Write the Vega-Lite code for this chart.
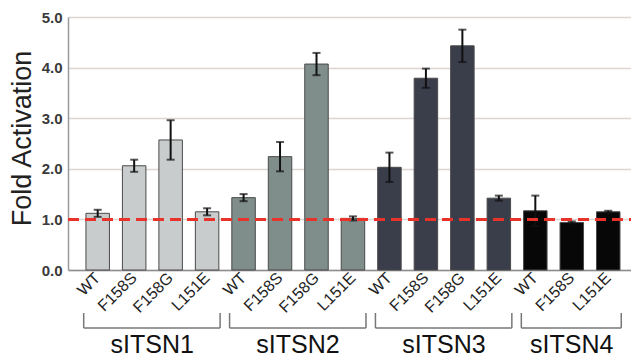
{
  "$schema": "https://vega.github.io/schema/vega-lite/v6.json",
  "autosize": {"type": "none"},
  "width": 563,
  "height": 253,
  "padding": {"left": 68, "top": 17, "right": 0, "bottom": 88},
  "background": "white",
  "config": {
    "font": "Liberation Sans",
    "view": {"stroke": null}
  },
  "datasets": {
    "bars": [
      {"id": "sITSN1 WT", "group": "sITSN1", "mut": "WT", "value": 1.12, "err": 0.07},
      {"id": "sITSN1 F158S", "group": "sITSN1", "mut": "F158S", "value": 2.06, "err": 0.12},
      {"id": "sITSN1 F158G", "group": "sITSN1", "mut": "F158G", "value": 2.57, "err": 0.39},
      {"id": "sITSN1 L151E", "group": "sITSN1", "mut": "L151E", "value": 1.15, "err": 0.07},
      {"id": "sITSN2 WT", "group": "sITSN2", "mut": "WT", "value": 1.43, "err": 0.07},
      {"id": "sITSN2 F158S", "group": "sITSN2", "mut": "F158S", "value": 2.24, "err": 0.29},
      {"id": "sITSN2 F158G", "group": "sITSN2", "mut": "F158G", "value": 4.07, "err": 0.22},
      {"id": "sITSN2 L151E", "group": "sITSN2", "mut": "L151E", "value": 1.02, "err": 0.04},
      {"id": "sITSN3 WT", "group": "sITSN3", "mut": "WT", "value": 2.03, "err": 0.29},
      {"id": "sITSN3 F158S", "group": "sITSN3", "mut": "F158S", "value": 3.79, "err": 0.19},
      {"id": "sITSN3 F158G", "group": "sITSN3", "mut": "F158G", "value": 4.43, "err": 0.32},
      {"id": "sITSN3 L151E", "group": "sITSN3", "mut": "L151E", "value": 1.42, "err": 0.05},
      {"id": "sITSN4 WT", "group": "sITSN4", "mut": "WT", "value": 1.17, "err": 0.3},
      {"id": "sITSN4 F158S", "group": "sITSN4", "mut": "F158S", "value": 0.94, "err": 0.02},
      {"id": "sITSN4 L151E", "group": "sITSN4", "mut": "L151E", "value": 1.15, "err": 0.02}
    ],
    "brackets": [
      {"group": "sITSN1", "first": "sITSN1 WT", "last": "sITSN1 L151E", "labelAt": "sITSN1 F158S", "even": true},
      {"group": "sITSN2", "first": "sITSN2 WT", "last": "sITSN2 L151E", "labelAt": "sITSN2 F158S", "even": true},
      {"group": "sITSN3", "first": "sITSN3 WT", "last": "sITSN3 L151E", "labelAt": "sITSN3 F158S", "even": true},
      {"group": "sITSN4", "first": "sITSN4 WT", "last": "sITSN4 L151E", "labelAt": "sITSN4 F158S", "even": false}
    ],
    "levels": [
      {"ref": 1}
    ]
  },
  "encoding": {
    "x": {
      "field": "id",
      "type": "nominal",
      "sort": null,
      "scale": {
        "domain": ["sITSN1 WT", "sITSN1 F158S", "sITSN1 F158G", "sITSN1 L151E", "sITSN2 WT", "sITSN2 F158S", "sITSN2 F158G", "sITSN2 L151E", "sITSN3 WT", "sITSN3 F158S", "sITSN3 F158G", "sITSN3 L151E", "sITSN4 WT", "sITSN4 F158S", "sITSN4 L151E"],
        "paddingInner": 0.356,
        "paddingOuter": 0.397,
        "align": 0.62
      },
      "axis": {
        "title": null,
        "labelExpr": "split(datum.value, ' ')[1]",
        "labelAngle": -45,
        "labelAlign": "right",
        "labelBaseline": "middle",
        "labelFontSize": 16,
        "labelColor": "#222",
        "labelPadding": 5,
        "ticks": false,
        "domainColor": "#8c8c8c",
        "domainWidth": 1.5,
        "grid": false
      }
    }
  },
  "layer": [
    {
      "data": {"name": "bars"},
      "mark": {"type": "bar", "stroke": "#4a4a4a", "strokeWidth": 1},
      "encoding": {
        "y": {
          "field": "value",
          "type": "quantitative",
          "scale": {"domain": [0, 5], "nice": false},
          "axis": {
            "title": "Fold Activation",
            "titleFontSize": 27,
            "titleFontWeight": "normal",
            "titleColor": "#222",
            "titlePadding": 5,
            "titleY": 121,
            "values": [0, 1, 2, 3, 4, 5],
            "format": ".1f",
            "labelFontSize": 15,
            "labelFontWeight": "bold",
            "labelColor": "#3a3a3a",
            "labelPadding": 6,
            "ticks": false,
            "gridColor": "#ddd5d2",
            "gridWidth": 1.5,
            "domainColor": "#9a9a9a",
            "domainWidth": 1.5
          }
        },
        "color": {
          "field": "group",
          "type": "nominal",
          "scale": {
            "domain": ["sITSN1", "sITSN2", "sITSN3", "sITSN4"],
            "range": ["#c9cccd", "#7f8d8b", "#3a3d4a", "#070707"]
          },
          "legend": null
        }
      }
    },
    {
      "data": {"name": "bars"},
      "mark": {"type": "errorbar", "ticks": {"size": 8, "thickness": 2, "color": "#111"}, "rule": {"strokeWidth": 2, "color": "#111"}, "clip": false},
      "encoding": {
        "y": {"field": "value", "type": "quantitative", "title": "Fold Activation"},
        "yError": {"field": "err"}
      }
    },
    {
      "data": {"name": "levels"},
      "mark": {"type": "rule", "color": "#e8322a", "strokeWidth": 3, "strokeDash": [11, 6]},
      "encoding": {
        "y": {"field": "ref", "type": "quantitative"},
        "x": {"value": 0},
        "x2": {"value": 563}
      }
    },
    {
      "data": {"name": "brackets"},
      "mark": {"type": "rule", "color": "#777", "strokeWidth": 1.5, "clip": false, "xOffset": -14, "x2Offset": 13},
      "encoding": {
        "x": {"field": "first", "type": "nominal"},
        "x2": {"field": "last"},
        "y": {"datum": -1.145, "type": "quantitative"}
      }
    },
    {
      "data": {"name": "brackets"},
      "mark": {"type": "rule", "color": "#777", "strokeWidth": 1.5, "clip": false, "xOffset": -14},
      "encoding": {
        "x": {"field": "first", "type": "nominal"},
        "y": {"datum": -0.85, "type": "quantitative"},
        "y2": {"datum": -1.145}
      }
    },
    {
      "data": {"name": "brackets"},
      "mark": {"type": "rule", "color": "#777", "strokeWidth": 1.5, "clip": false, "xOffset": 13},
      "encoding": {
        "x": {"field": "last", "type": "nominal"},
        "y": {"datum": -0.85, "type": "quantitative"},
        "y2": {"datum": -1.145}
      }
    },
    {
      "data": {"name": "brackets"},
      "transform": [{"filter": "datum.even"}],
      "mark": {"type": "text", "fontSize": 25, "color": "#111", "baseline": "alphabetic", "align": "center", "xOffset": 18, "clip": false},
      "encoding": {
        "x": {"field": "labelAt", "type": "nominal"},
        "y": {"datum": -1.65, "type": "quantitative"},
        "text": {"field": "group"}
      }
    },
    {
      "data": {"name": "brackets"},
      "transform": [{"filter": "!datum.even"}],
      "mark": {"type": "text", "fontSize": 25, "color": "#111", "baseline": "alphabetic", "align": "center", "clip": false},
      "encoding": {
        "x": {"field": "labelAt", "type": "nominal"},
        "y": {"datum": -1.65, "type": "quantitative"},
        "text": {"field": "group"}
      }
    }
  ]
}
